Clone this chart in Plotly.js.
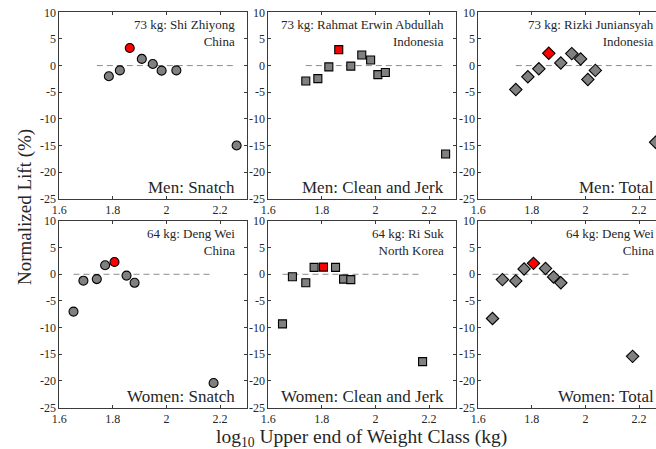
<!DOCTYPE html>
<html>
<head>
<meta charset="utf-8">
<script src="https://cdn.plot.ly/plotly-3.0.1.min.js"></script>
<style>
html,body{margin:0;padding:0;overflow:hidden;background:#fff;width:656px;height:449px;}
#chart{position:absolute;left:0;top:0;}
</style>
</head>
<body>
<div id="chart"></div>
<script>
// ---- data ----
const menSnatchX = [1.785, 1.826, 1.863, 1.908, 1.949, 1.982, 2.037, 2.262];
const menSnatchY = [-2.0, -0.9, 3.3, 1.25, 0.3, -0.95, -0.9, -15.0];
const menCJX = [1.740, 1.785, 1.826, 1.863, 1.908, 1.949, 1.982, 2.009, 2.037, 2.262];
const menCJY = [-2.9, -2.45, -0.25, 3.0, -0.1, 2.0, 1.05, -1.7, -1.3, -16.6];
const menTotalX = [1.740, 1.785, 1.826, 1.863, 1.908, 1.949, 1.982, 2.009, 2.037, 2.262];
const menTotalY = [-4.5, -2.1, -0.6, 2.3, 0.5, 2.25, 1.25, -2.6, -0.9, -14.4];
const womenSnatchX = [1.653, 1.690, 1.740, 1.771, 1.806, 1.851, 1.881, 2.176];
const womenSnatchY = [-7.0, -1.2, -0.9, 1.7, 2.3, -0.25, -1.6, -20.4];
const womenCJX = [1.653, 1.690, 1.740, 1.771, 1.806, 1.851, 1.881, 1.908, 2.176];
const womenCJY = [-9.3, -0.45, -1.6, 1.3, 1.35, 1.3, -0.9, -1.0, -16.4];
const womenTotalX = [1.653, 1.690, 1.740, 1.771, 1.806, 1.851, 1.881, 1.908, 2.176];
const womenTotalY = [-8.3, -1.0, -1.25, 1.0, 2.05, 1.1, -0.5, -1.6, -15.4];
const menHighlightX = 1.863;
const womenHighlightX = 1.806;

const panelTitles = ["Men: Snatch", "Men: Clean and Jerk", "Men: Total",
                     "Women: Snatch", "Women: Clean and Jerk", "Women: Total"];
const athletes = ["73 kg: Shi Zhiyong<br>China", "73 kg: Rahmat Erwin Abdullah<br>Indonesia",
                  "73 kg: Rizki Juniansyah<br>Indonesia", "64 kg: Deng Wei<br>China",
                  "64 kg: Ri Suk<br>North Korea", "64 kg: Deng Wei<br>China"];
const xTickVals = [1.6, 1.8, 2.0, 2.2];
const xTickText = ["1.6", "1.8", "2", "2.2"];
const yTickVals = [10, 5, 0, -5, -10, -15, -20, -25];
const yTickText = ["10", "5", "0", "-5", "-10", "-15", "-20", "-25"];
const xTitle = "log<sub>10</sub> Upper end of Weight Class (kg)";
const yTitle = "Normalized Lift (%)";

// ---- layout geometry ----
const W = 680, H = 449;
const colPx = [[59.3, 246.8], [268.3, 455.8], [478.3, 665.8]];
const rowPx = [[12.3, 198.8], [221.0, 407.5]];
const FONT = "Liberation Serif, Times New Roman, serif";
const AX = "#3a3a3a";

const panels = [
  {x: menSnatchX, y: menSnatchY, hl: menHighlightX, sym: "circle", size: 9, rng: menCJX},
  {x: menCJX, y: menCJY, hl: menHighlightX, sym: "square", size: 8, rng: menCJX},
  {x: menTotalX, y: menTotalY, hl: menHighlightX, sym: "diamond", size: 9.5, rng: menCJX},
  {x: womenSnatchX, y: womenSnatchY, hl: womenHighlightX, sym: "circle", size: 9, rng: womenCJX},
  {x: womenCJX, y: womenCJY, hl: womenHighlightX, sym: "square", size: 8, rng: womenCJX},
  {x: womenTotalX, y: womenTotalY, hl: womenHighlightX, sym: "diamond", size: 9.5, rng: womenCJX}
];

const traces = [];
const layout = {
  width: W, height: H,
  margin: {l: 0, r: 0, t: 0, b: 0},
  paper_bgcolor: "#fff", plot_bgcolor: "#fff",
  showlegend: false,
  font: {family: FONT, color: "#262626", size: 12},
  annotations: []
};

panels.forEach((p, i) => {
  const n = i + 1;
  const sfx = n === 1 ? "" : String(n);
  const xa = "x" + sfx, ya = "y" + sfx;
  const col = i % 3, row = Math.floor(i / 3);
  const lo = Math.min(...p.rng), hi = Math.max(...p.rng);
  traces.push({
    x: [lo, hi], y: [0, 0], xaxis: xa, yaxis: ya, mode: "lines",
    line: {color: "#8c8c8c", width: 1, dash: "6px,4px"}, hoverinfo: "skip"
  });
  traces.push({
    x: p.x, y: p.y, xaxis: xa, yaxis: ya, mode: "markers",
    marker: {
      symbol: p.sym, size: p.size,
      color: p.x.map(v => v === p.hl ? "#ff0000" : "#808080"),
      line: {color: "#000", width: 1.1}
    },
    cliponaxis: false
  });
  layout["xaxis" + sfx] = {
    domain: [colPx[col][0] / W, colPx[col][1] / W],
    anchor: ya, range: [1.6, 2.3],
    tickvals: xTickVals, ticktext: xTickText,
    ticks: "inside", ticklen: 3, tickcolor: AX, tickwidth: 1,
    showline: true, linecolor: AX, linewidth: 1, mirror: "ticks",
    showgrid: false, zeroline: false,
    tickfont: {family: FONT, size: 12, color: "#262626"}
  };
  layout["yaxis" + sfx] = {
    domain: [(H - rowPx[row][1]) / H, (H - rowPx[row][0]) / H],
    anchor: xa, range: [-25, 10],
    tickvals: yTickVals, ticktext: yTickText,
    ticks: "inside", ticklen: 3, tickcolor: AX, tickwidth: 1,
    showline: true, linecolor: AX, linewidth: 1, mirror: "ticks",
    showgrid: false, zeroline: false,
    tickfont: {family: FONT, size: 12, color: "#262626"}
  };
  layout.annotations.push({
    xref: xa + " domain", yref: ya + " domain", x: 0.95, y: 0.985,
    xanchor: "right", yanchor: "top", align: "right", showarrow: false,
    text: athletes[i], font: {family: FONT, size: 13, color: "#262626"}
  });
  layout.annotations.push({
    xref: xa + " domain", yref: ya + " domain", x: 0.95, y: 0.0,
    xanchor: "right", yanchor: "bottom", align: "right", showarrow: false,
    text: panelTitles[i], font: {family: FONT, size: 17, color: "#262626"}
  });
});

layout.annotations.push({
  xref: "paper", yref: "paper", x: 361 / W, y: (H - 438) / H,
  xanchor: "center", yanchor: "middle", showarrow: false,
  text: xTitle, font: {family: FONT, size: 19.5, color: "#262626"}
});
layout.annotations.push({
  xref: "paper", yref: "paper", x: 25 / W, y: (H - 207) / H,
  xanchor: "center", yanchor: "middle", showarrow: false, textangle: -90,
  text: yTitle, font: {family: FONT, size: 19, color: "#262626"}
});

Plotly.newPlot("chart", traces, layout, {staticPlot: true, displayModeBar: false});
</script>
</body>
</html>
